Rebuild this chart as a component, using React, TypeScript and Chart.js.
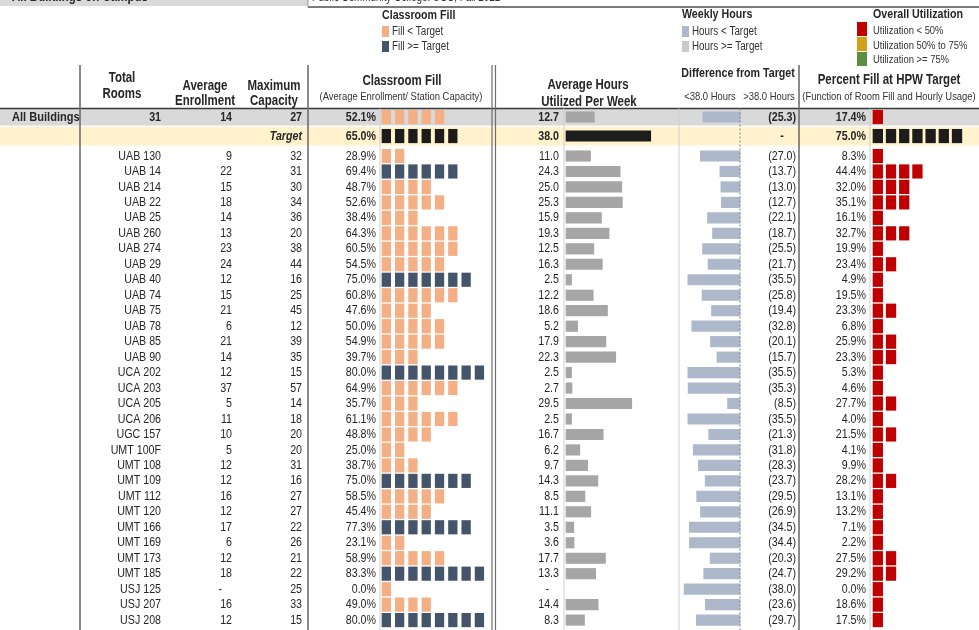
import React, { useEffect, useRef } from 'react';
import { Chart, registerables } from 'chart.js';

Chart.register(...registerables);

// ---------------- DATA ----------------
const rooms = ['UAB 130', 'UAB 14', 'UAB 214', 'UAB 22', 'UAB 25', 'UAB 260', 'UAB 274', 'UAB 29', 'UAB 40', 'UAB 74', 'UAB 75', 'UAB 78', 'UAB 85', 'UAB 90', 'UCA 202', 'UCA 203', 'UCA 205', 'UCA 206', 'UGC 157', 'UMT 100F', 'UMT 108', 'UMT 109', 'UMT 112', 'UMT 120', 'UMT 166', 'UMT 169', 'UMT 173', 'UMT 185', 'USJ 125', 'USJ 207', 'USJ 208'];
const enrollment: (number | null)[] = [9, 22, 15, 18, 14, 13, 23, 24, 12, 15, 21, 6, 21, 14, 12, 37, 5, 11, 10, 5, 12, 12, 16, 12, 17, 6, 12, 18, null, 16, 12];
const capacity = [32, 31, 30, 34, 36, 20, 38, 44, 16, 25, 45, 12, 39, 35, 15, 57, 14, 18, 20, 20, 31, 16, 27, 27, 22, 26, 21, 22, 25, 33, 15];
const fillPct = [28.9, 69.4, 48.7, 52.6, 38.4, 64.3, 60.5, 54.5, 75.0, 60.8, 47.6, 50.0, 54.9, 39.7, 80.0, 64.9, 35.7, 61.1, 48.8, 25.0, 38.7, 75.0, 58.5, 45.4, 77.3, 23.1, 58.9, 83.3, 0.0, 49.0, 80.0];
const hours: (number | null)[] = [11.0, 24.3, 25.0, 25.3, 15.9, 19.3, 12.5, 16.3, 2.5, 12.2, 18.6, 5.2, 17.9, 22.3, 2.5, 2.7, 29.5, 2.5, 16.7, 6.2, 9.7, 14.3, 8.5, 11.1, 3.5, 3.6, 17.7, 13.3, null, 14.4, 8.3];
const diffFromTarget = [-27.0, -13.7, -13.0, -12.7, -22.1, -18.7, -25.5, -21.7, -35.5, -25.8, -19.4, -32.8, -20.1, -15.7, -35.5, -35.3, -8.5, -35.5, -21.3, -31.8, -28.3, -23.7, -29.5, -26.9, -34.5, -34.4, -20.3, -24.7, -38.0, -23.6, -29.7];
const hpwPct = [8.3, 44.4, 32.0, 35.1, 16.1, 32.7, 19.9, 23.4, 4.9, 19.5, 23.3, 6.8, 25.9, 23.3, 5.3, 4.6, 27.7, 4.0, 21.5, 4.1, 9.9, 28.2, 13.1, 13.2, 7.1, 2.2, 27.5, 29.2, 0.0, 18.6, 17.5];

const allRooms = 31;
const allEnrollment = 14;
const allCapacity = 27;
const allFill = 52.1;
const allHours = 12.7;
const allDiff = -25.3;
const allHpw = 17.4;

const targetFill = 65.0;
const targetHours = 38.0;
const targetHpw = 75.0;

// ---------------- LAYOUT ----------------
const W = 979;
const H = 630;
const ROW_PX = 15.47;
const FIRST_ROW_Y = 156;
const ROW_ALL = -2.52;
const ROW_TARGET = -1.29;
const FONT = '"Liberation Sans", Arial, sans-serif';
const SX = 0.82;

const C_ORANGE = '#F4AF84';
const C_SLATE = '#44546A';
const C_BLACK = '#1C1C1C';
const C_GRAY = '#A6A6A6';
const C_BLUE = '#ADB9CA';
const C_RED = '#C00000';
const C_GOLD = '#D4A017';
const C_GREEN = '#5B8E3E';
const C_TEXT = '#262626';

function axisRange(originPx: number, pxPerUnit: number) {
  return { min: -originPx / pxPerUnit, max: (W - originPx) / pxPerUnit };
}

function blocks(v: number) {
  return Math.max(1, Math.floor(v / 10));
}

function buildBlockData(values: number[], rows: number[], width: number, colorOf: (v: number, i: number) => string) {
  const data: any[] = [];
  const colors: string[] = [];
  values.forEach((v, i) => {
    const n = blocks(v);
    for (let k = 0; k < n; k++) {
      data.push({ x: [k, k + width], y: rows[i] });
      colors.push(colorOf(v, i));
    }
  });
  return { data, colors };
}

function txt(ctx: CanvasRenderingContext2D, s: string, x: number, y: number, size: number, o: any = {}) {
  ctx.save();
  ctx.font = `${o.italic ? 'italic ' : ''}${o.bold ? 'bold ' : ''}${size}px ${FONT}`;
  ctx.fillStyle = o.color || C_TEXT;
  ctx.textAlign = o.align || 'left';
  ctx.textBaseline = 'middle';
  ctx.translate(x, y);
  ctx.scale(o.sx || SX, 1);
  ctx.fillText(s, 0, 0);
  ctx.restore();
}

function line(ctx: CanvasRenderingContext2D, x1: number, y1: number, x2: number, y2: number, color: string, w: number, dash: number[] = []) {
  ctx.save();
  ctx.strokeStyle = color;
  ctx.lineWidth = w;
  ctx.setLineDash(dash);
  ctx.beginPath();
  ctx.moveTo(x1, y1);
  ctx.lineTo(x2, y2);
  ctx.stroke();
  ctx.restore();
}

const fmtPct = (v: number) => `${v.toFixed(1)}%`;
const fmtDiff = (v: number) => `(${Math.abs(v).toFixed(1)})`;

const tablePlugin = {
  id: 'tablePlugin',
  beforeDatasetsDraw(chart: any) {
    const ctx: CanvasRenderingContext2D = chart.ctx;
    const ys = chart.scales.y;
    const ya = ys.getPixelForValue(ROW_ALL);
    const yt = ys.getPixelForValue(ROW_TARGET);
    ctx.save();
    ctx.fillStyle = '#D9D9D9';
    ctx.fillRect(0, 0, 308, 6);
    ctx.fillRect(0, ya - 8, W, 16.5);
    ctx.fillStyle = '#FFF2CC';
    ctx.fillRect(0, yt - 9, W, 18.5);
    ctx.restore();
  },
  afterDatasetsDraw(chart: any) {
    const ctx: CanvasRenderingContext2D = chart.ctx;
    const ys = chart.scales.y;
    const ya = ys.getPixelForValue(ROW_ALL);
    const yt = ys.getPixelForValue(ROW_TARGET);

    // top strip
    txt(ctx, 'All Buildings on Campus', 12, -3, 14, { bold: true });
    txt(ctx, 'Public Community College: UCC, Fall 2022', 312, -2.5, 12, { color: '#333' });
    line(ctx, 308, 0, 308, 7, '#999', 1);
    line(ctx, 308, 7, W, 7, '#7a7a7a', 2);

    // legends
    txt(ctx, 'Classroom Fill', 382, 15, 13, { bold: true });
    ctx.fillStyle = C_ORANGE; ctx.fillRect(382, 26, 7, 11);
    ctx.fillStyle = C_SLATE; ctx.fillRect(382, 41, 7, 11);
    txt(ctx, 'Fill < Target', 392, 31.5, 12, { color: '#333' });
    txt(ctx, 'Fill >= Target', 392, 46.5, 12, { color: '#333' });

    txt(ctx, 'Weekly Hours', 682, 14, 13, { bold: true });
    ctx.fillStyle = C_BLUE; ctx.fillRect(682, 26, 7, 11);
    ctx.fillStyle = '#C9C9C9'; ctx.fillRect(682, 41, 7, 11);
    txt(ctx, 'Hours < Target', 692, 31.5, 12, { color: '#333' });
    txt(ctx, 'Hours >= Target', 692, 46.5, 12, { color: '#333' });

    txt(ctx, 'Overall Utilization', 873, 14, 13, { bold: true });
    ctx.fillStyle = C_RED; ctx.fillRect(857, 22, 10, 14);
    ctx.fillStyle = C_GOLD; ctx.fillRect(857, 37, 10, 14);
    ctx.fillStyle = C_GREEN; ctx.fillRect(857, 52, 10, 14);
    txt(ctx, 'Utilization < 50%', 873, 30.5, 11.5, { color: '#333' });
    txt(ctx, 'Utilization 50% to 75%', 873, 45.5, 11.5, { color: '#333' });
    txt(ctx, 'Utilization >= 75%', 873, 60, 11.5, { color: '#333' });

    // column headers
    txt(ctx, 'Total', 122, 78, 14, { bold: true, align: 'center' });
    txt(ctx, 'Rooms', 122, 94, 14, { bold: true, align: 'center' });
    txt(ctx, 'Average', 205, 86, 14, { bold: true, align: 'center' });
    txt(ctx, 'Enrollment', 205, 101, 14, { bold: true, align: 'center' });
    txt(ctx, 'Maximum', 274, 86, 14, { bold: true, align: 'center' });
    txt(ctx, 'Capacity', 274, 101, 14, { bold: true, align: 'center' });
    txt(ctx, 'Classroom Fill', 402, 81, 14, { bold: true, align: 'center' });
    txt(ctx, '(Average Enrollment/ Station Capacity)', 401, 97, 11.5, { align: 'center', color: '#333' });
    txt(ctx, 'Average Hours', 588, 85, 14, { bold: true, align: 'center' });
    txt(ctx, 'Utilized Per Week', 589, 102, 14, { bold: true, align: 'center' });
    txt(ctx, 'Difference from Target', 738, 73, 13, { bold: true, align: 'center' });
    txt(ctx, '<38.0 Hours', 710, 97, 11.5, { align: 'center', color: '#333' });
    txt(ctx, '>38.0 Hours', 769, 97, 11.5, { align: 'center', color: '#333' });
    txt(ctx, 'Percent Fill at HPW Target', 889, 80, 14, { bold: true, align: 'center' });
    txt(ctx, '(Function of Room Fill and Hourly Usage)', 889, 97, 11.5, { align: 'center', color: '#333' });

    // grid lines
    const top = ya - 8.5;
    line(ctx, 0, top, W, top, '#3a3a3a', 1.6);
    [80, 308, 799].forEach((x) => line(ctx, x, 65, x, H, '#6e6e6e', 1.6));
    [492, 495.5].forEach((x) => line(ctx, x, 65, x, H, '#6e6e6e', 1.2));
    [380, 564, 679, 870].forEach((x) => line(ctx, x, top, x, H, '#cfcfcf', 1));
    line(ctx, 740, top, 740, H, '#7f7f7f', 1, [2, 2]);

    // All Buildings row
    txt(ctx, 'All Buildings', 12, ya, 13.5, { bold: true });
    txt(ctx, String(allRooms), 161, ya, 13, { bold: true, align: 'right' });
    txt(ctx, String(allEnrollment), 232, ya, 13, { bold: true, align: 'right' });
    txt(ctx, String(allCapacity), 302, ya, 13, { bold: true, align: 'right' });
    txt(ctx, fmtPct(allFill), 376, ya, 13, { bold: true, align: 'right' });
    txt(ctx, allHours.toFixed(1), 559, ya, 13, { bold: true, align: 'right' });
    txt(ctx, fmtDiff(allDiff), 796, ya, 13, { bold: true, align: 'right' });
    txt(ctx, fmtPct(allHpw), 866, ya, 13, { bold: true, align: 'right' });

    // Target row
    txt(ctx, 'Target', 302, yt, 13, { bold: true, italic: true, align: 'right' });
    txt(ctx, fmtPct(targetFill), 376, yt, 13, { bold: true, align: 'right' });
    txt(ctx, targetHours.toFixed(1), 559, yt, 13, { bold: true, align: 'right' });
    txt(ctx, '-', 782, yt, 13, { bold: true, align: 'center' });
    txt(ctx, fmtPct(targetHpw), 866, yt, 13, { bold: true, align: 'right' });

    // room rows
    rooms.forEach((r, i) => {
      const y = ys.getPixelForValue(i);
      txt(ctx, r, 161, y, 13, { align: 'right' });
      const e = enrollment[i];
      txt(ctx, e == null ? '-' : String(e), e == null ? 222 : 232, y, 13, { align: 'right' });
      txt(ctx, String(capacity[i]), 302, y, 13, { align: 'right' });
      txt(ctx, fmtPct(fillPct[i]), 376, y, 13, { align: 'right' });
      const h = hours[i];
      txt(ctx, h == null ? '-' : h.toFixed(1), h == null ? 549 : 559, y, 13, { align: 'right' });
      txt(ctx, fmtDiff(diffFromTarget[i]), 796, y, 13, { align: 'right' });
      txt(ctx, fmtPct(hpwPct[i]), 866, y, 13, { align: 'right' });
    });
  },
};

export default function App() {
  const ref = useRef<HTMLCanvasElement>(null);

  useEffect(() => {
    const canvas = ref.current;
    if (!canvas) return;

    const roomRows = rooms.map((_, i) => i);
    const allRows = [ROW_ALL, ROW_TARGET, ...roomRows];

    const fill = buildBlockData([allFill, targetFill, ...fillPct], allRows, 0.65, (v, i) =>
      i === 1 ? C_BLACK : v >= targetFill ? C_SLATE : C_ORANGE
    );
    const hpw = buildBlockData([allHpw, targetHpw, ...hpwPct], allRows, 0.73, (v, i) =>
      i === 1 ? C_BLACK : v < 50 ? C_RED : v < 75 ? C_GOLD : C_GREEN
    );

    const hoursVals = [allHours, targetHours, ...hours];
    const hoursData: any[] = [];
    const hoursColors: string[] = [];
    hoursVals.forEach((v, i) => {
      if (v == null) return;
      hoursData.push({ x: v, y: allRows[i] });
      hoursColors.push(i === 1 ? C_BLACK : C_GRAY);
    });

    const diffVals = [allDiff, null, ...diffFromTarget];
    const diffData: any[] = [];
    diffVals.forEach((v, i) => {
      if (v == null) return;
      diffData.push({ x: v, y: allRows[i] });
    });

    const yMin = -FIRST_ROW_Y / ROW_PX;
    const common = { type: 'linear', display: false, bounds: 'data', offset: false, grid: { display: false } };

    const chart = new Chart(canvas, {
      type: 'bar',
      data: {
        datasets: [
          { label: 'Classroom Fill', data: fill.data, backgroundColor: fill.colors, xAxisID: 'xFill', yAxisID: 'y', barThickness: 13.5, grouped: false } as any,
          { label: 'Average Hours', data: hoursData, backgroundColor: hoursColors, xAxisID: 'xHours', yAxisID: 'y', barThickness: 10.5, grouped: false } as any,
          { label: 'Difference from Target', data: diffData, backgroundColor: C_BLUE, xAxisID: 'xDiff', yAxisID: 'y', barThickness: 10.5, grouped: false } as any,
          { label: 'Percent Fill at HPW Target', data: hpw.data, backgroundColor: hpw.colors, xAxisID: 'xPct', yAxisID: 'y', barThickness: 13.5, grouped: false } as any,
        ],
      },
      options: {
        indexAxis: 'y',
        animation: false,
        responsive: false,
        devicePixelRatio: 1,
        layout: { padding: 0 },
        plugins: { legend: { display: false }, tooltip: { enabled: false } },
        scales: {
          y: { ...common, reverse: true, min: yMin, max: yMin + H / ROW_PX },
          xFill: { ...common, ...axisRange(382, 13.3) },
          xHours: { ...common, ...axisRange(566, 2.23) },
          xDiff: { ...common, ...axisRange(740, 1.47) },
          xPct: { ...common, ...axisRange(873, 13.2) },
        } as any,
      },
      plugins: [tablePlugin],
    } as any);

    return () => chart.destroy();
  }, []);

  return (
    <div style={{ position: 'fixed', left: 0, top: 0, width: W, height: H, background: '#fff' }}>
      <canvas ref={ref} width={W} height={H} style={{ display: 'block', width: W, height: H }} />
    </div>
  );
}
